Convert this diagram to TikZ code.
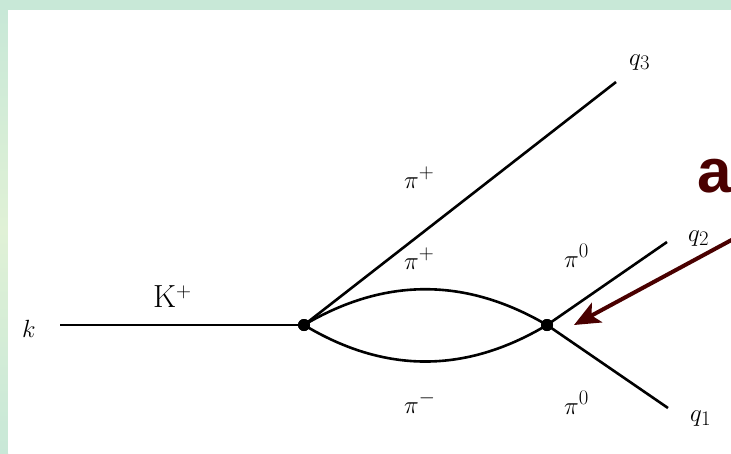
\documentclass[tikz,border=0pt]{standalone}
\usepackage{fontspec}
\newfontfamily\armfont{Liberation Sans}
\usetikzlibrary{arrows.meta}
\definecolor{mint}{HTML}{C8E8D7}
\definecolor{mintlight}{HTML}{E0F1D6}
\definecolor{darkred}{HTML}{4A0000}
\tikzset{
  prop/.style={line width=2.6pt, black},
  vtx/.style={circle, fill=black, inner sep=0pt, minimum size=12pt},
  lbl/.style={inner sep=0pt, font=\fontsize{32}{38}\selectfont},
  pointer/.style={line width=4pt, darkred, -{Stealth[length=26pt,width=22pt,inset=6pt]}},
}
\begin{document}
\begin{tikzpicture}[x=1pt,y=-1pt]
\useasboundingbox (0,0) rectangle (731,453);
\fill[mint] (0,0) rectangle (731,453);
\shade[top color=mint, bottom color=mintlight] (0,10) rectangle (8,230);
\shade[top color=mintlight, bottom color=mint] (0,230) rectangle (8,453);
\fill[white] (8,10) rectangle (731,453);
\begin{scope}
\clip (0,0) rectangle (731,453);
% vertices
\node[vtx] (v1) at (304,325) {};
\node[vtx] (v2) at (547,325) {};
\coordinate (kin) at (60,325);
\coordinate (e3) at (616,82);
\coordinate (e2) at (667,242);
\coordinate (e1) at (668,408);
\coordinate (astart) at (750,230);
\coordinate (atip) at (574,325);
% propagators
\draw[prop] (kin) -- (v1.center);
\draw[prop] (v1.center) -- (e3);
\draw[prop] (v1.center) .. controls (384.7,277.3) and (465.7,277.3) .. (v2.center);
\draw[prop] (v1.center) .. controls (384.7,373.7) and (465.7,373.7) .. (v2.center);
\draw[prop] (v2.center) -- (e2);
\draw[prop] (v2.center) -- (e1);
\node[vtx] at (v1) {};
\node[vtx] at (v2) {};
% labels
\node[lbl, anchor=base] (lk) at (29,337) {$k$};
\node[lbl, anchor=base west] (lK) at (153,307) {$\mathrm{K}^+$};
\node[lbl, anchor=base west] (lp1) at (404,188) {$\pi^+$};
\node[lbl, anchor=base west] (lp2) at (404,269) {$\pi^+$};
\node[lbl, anchor=base west] (lp3) at (404,413) {$\pi^-$};
\node[lbl, anchor=base west] (lp4) at (564,267) {$\pi^0$};
\node[lbl, anchor=base west] (lp5) at (564,414) {$\pi^0$};
\node[lbl, anchor=base west] (lq3) at (629,65) {$q_3$};
\node[lbl, anchor=base west] (lq2) at (688,241) {$q_2$};
\node[lbl, anchor=base west] (lq1) at (690,421) {$q_1$};
% annotation
\node[inner sep=0pt, anchor=base west, text=darkred, font=\armfont\bfseries\fontsize{62}{70}\selectfont] (ann) at (697,192) {a};
\draw[pointer] (astart) -- (atip);
\end{scope}
\end{tikzpicture}
\end{document}
